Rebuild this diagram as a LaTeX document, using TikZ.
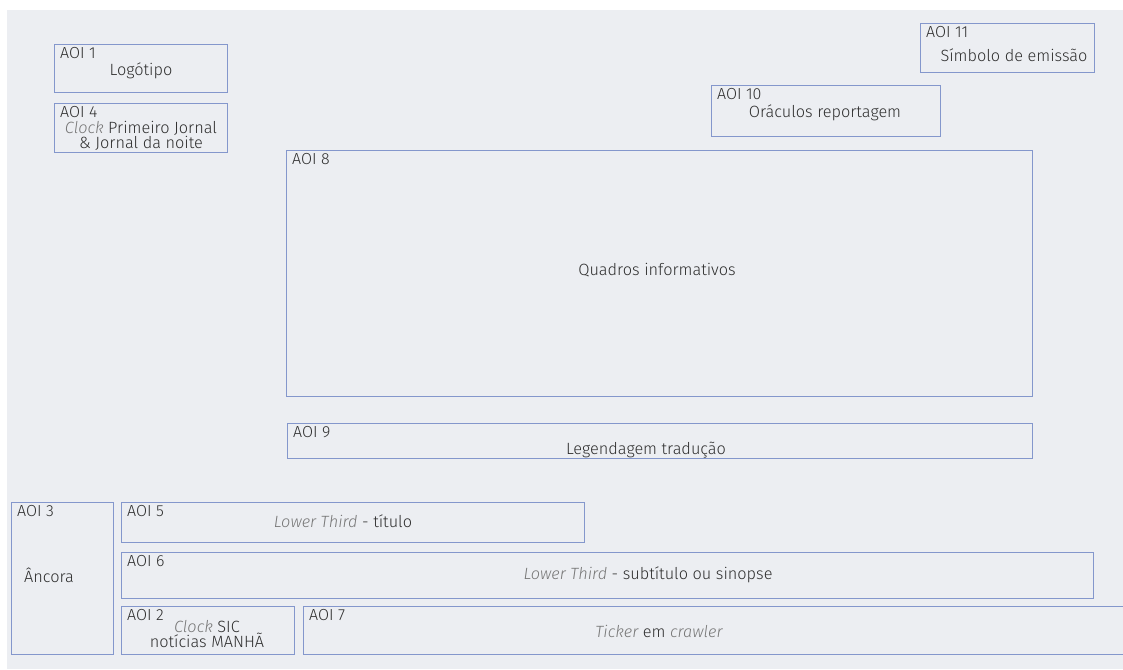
\documentclass[tikz,border=0pt]{standalone}
\usepackage{fontspec}
\setmainfont{Fira Sans Light}[BoldFont={Fira Sans}]
\begin{document}
\definecolor{panel}{HTML}{ECEEF2}
\definecolor{edge}{HTML}{8497CC}
\definecolor{ink}{HTML}{2E2E2E}
\definecolor{soft}{HTML}{777777}
\begin{tikzpicture}[x=1pt,y=-1pt,
  aoi/.style={draw=edge, line width=0.8pt, anchor=north west, inner sep=0pt},
  tag/.style={anchor=north west, inner sep=0pt, text=ink, font=\fontsize{16}{16}\selectfont},
  txt/.style={inner sep=0pt, text=ink, align=center, font=\fontsize{16.3}{15}\selectfont}]
\newcommand{\soft}[1]{\textcolor{soft}{\itshape #1}}
\useasboundingbox (0,0) rectangle (1123,669);
\fill[white] (0,0) rectangle (1123,669);
\fill[panel] (7,10) rectangle (1123,669);

% boxes: position = top-left corner, size in px
\node[aoi, minimum width=173, minimum height=48] (a1) at (54,44) {};
\node[aoi, minimum width=173, minimum height=49] (a4) at (54,103) {};
\node[aoi, minimum width=174, minimum height=49] (a11) at (920,23) {};
\node[aoi, minimum width=229, minimum height=51] (a10) at (711,85) {};
\node[aoi, minimum width=746, minimum height=246] (a8) at (286,150) {};
\node[aoi, minimum width=745, minimum height=35] (a9) at (287,423) {};
\node[aoi, minimum width=102, minimum height=152] (a3) at (11,502) {};
\node[aoi, minimum width=463, minimum height=40] (a5) at (121,502) {};
\node[aoi, minimum width=972, minimum height=46] (a6) at (121,552) {};
\node[aoi, minimum width=173, minimum height=48] (a2) at (121,606) {};
\node[aoi, minimum width=830, minimum height=48] (a7) at (303,606) {};

% AOI tags
\foreach \b/\t in {a1/1, a4/4, a11/11, a10/10, a8/8, a9/9, a3/3, a5/5, a6/6, a2/2, a7/7}
  \node[tag] at ([shift={(6,3)}]\b.north west) {AOI \t};

% descriptions
\node[txt] (d1) at (141,71) {Logótipo};
\node[txt] (d4) at (141,136) {\soft{Clock} Primeiro Jornal\\\& Jornal da noite};
\node[txt] (d11) at (1014,55) {Símbolo de emissão};
\node[txt] (d10) at (825,113) {Oráculos reportagem};
\node[txt] (d8) at (657,270) {Quadros informativos};
\node[txt] (d9) at (646,450) {Legendagem tradução};
\node[txt] (d3) at (49,575) {Âncora};
\node[txt] (d5) at (343,521) {\soft{Lower Third} - título};
\node[txt] (d6) at (648,575) {\soft{Lower Third} - subtítulo ou sinopse};
\node[txt] (d2) at (207,634) {\soft{Clock} SIC\\notícias MANHÃ};
\node[txt] (d7) at (659,631) {\soft{Ticker} em \soft{crawler}};
\end{tikzpicture}
\end{document}
